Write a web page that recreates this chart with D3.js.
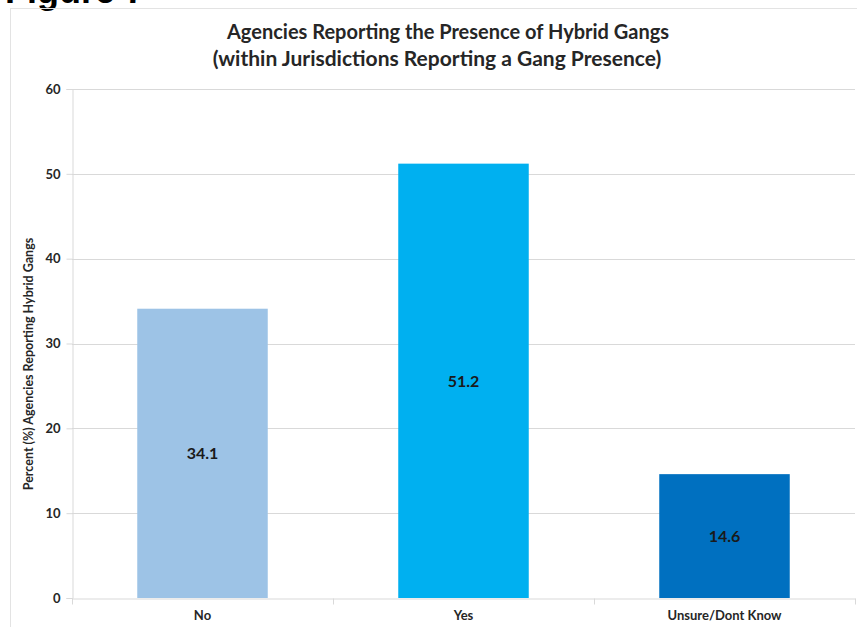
<!DOCTYPE html>
<html>
<head>
<meta charset="utf-8">
<script src="https://cdn.jsdelivr.net/npm/d3@7"></script>
<style>
  body { margin: 0; background: #fff; }
  svg { display: block; font-family: Lato, "Open Sans", sans-serif; }
</style>
</head>
<body>
<svg width="857" height="627"></svg>
<script>
// chart data
var categories = ["No", "Yes", "Unsure/Dont Know"];
var values = [34.1, 51.2, 14.6];
var barColors = ["#9dc3e6", "#00b0f0", "#0070c0"];
var yTicks = [0, 10, 20, 30, 40, 50, 60];

var svg = d3.select('svg');

// cut-off figure caption at the very top
svg.append('text')
    .text('Figure 7')
    .attr('x', 5)
    .attr('y', 3)
    .style('font-family', '"Liberation Sans", sans-serif')
    .style('font-weight', 'bold')
    .style('font-size', '36px')
    .attr('fill', '#000');

// chart frame
svg.append('rect')
    .attr('x', 10.5).attr('y', 8.5)
    .attr('width', 860).attr('height', 640)
    .attr('fill', 'none')
    .attr('stroke', '#e3e3e3');

// plot area edges (don't call it "top", that's window.top)
var plotLeft = 72, plotTop = 89, plotRight = 855, plotBottom = 598;

var x = d3.scaleBand().domain(categories).range([plotLeft, plotRight]).paddingInner(0.5).paddingOuter(0.25);
var y = d3.scaleLinear().domain([0, 60]).range([plotBottom, plotTop]);

// title
var title = svg.append('text')
    .attr('text-anchor', 'middle')
    .style('font-weight', 'bold')
    .style('font-size', '20px')
    .attr('fill', '#262626');
title.append('tspan').attr('x', 448).attr('y', 39).text('Agencies Reporting the Presence of Hybrid Gangs');
title.append('tspan').attr('x', 437).attr('y', 66).style('font-size', '21px').text('(within Jurisdictions Reporting a Gang Presence)');

// gridlines
svg.append('g')
    .selectAll('line')
    .data(yTicks.slice(1))
    .enter()
    .append('line')
    .attr('x1', plotLeft).attr('x2', plotRight)
    .attr('y1', function(d){ return Math.round(y(d)) + 0.5; })
    .attr('y2', function(d){ return Math.round(y(d)) + 0.5; })
    .attr('stroke', '#d9d9d9');

// y axis
var yAxis = svg.append('g')
    .attr('transform', 'translate(' + (plotLeft + 0.5) + ',0)')
    .call(d3.axisLeft(y).tickValues(yTicks).tickSize(6).tickPadding(6));
yAxis.select('.domain').attr('stroke', '#d9d9d9');
yAxis.selectAll('.tick line').attr('stroke', '#d9d9d9');
yAxis.selectAll('.tick text')
    .attr('fill', '#262626')
    .style('font-family', 'Lato, sans-serif')
    .style('font-weight', 'bold')
    .style('font-size', '13px');

// bars
svg.selectAll('.bar')
    .data(values)
    .enter()
    .append('rect')
    .attr('class', 'bar')
    .attr('x', function(d, i){ return x(categories[i]); })
    .attr('width', x.bandwidth())
    .attr('y', function(d){ return y(d); })
    .attr('height', function(d){ return plotBottom - y(d); })
    .attr('fill', function(d, i){ return barColors[i]; });

// value labels in the middle of each bar
svg.selectAll('.valueLabel')
    .data(values)
    .enter()
    .append('text')
    .attr('class', 'valueLabel')
    .text(function(d){ return d.toFixed(1); })
    .attr('x', function(d, i){ return x(categories[i]) + x.bandwidth() / 2; })
    .attr('y', function(d){ return (y(d) + plotBottom) / 2 + 6; })
    .attr('text-anchor', 'middle')
    .style('font-weight', 'bold')
    .style('font-size', '16px')
    .attr('fill', '#1a1a1a');

// x axis with ticks at category boundaries
var xAxis = svg.append('g')
    .attr('transform', 'translate(0,' + (plotBottom + 0.5) + ')')
    .call(d3.axisBottom(x).tickSize(0).tickPadding(12));
xAxis.select('.domain').attr('stroke', '#d9d9d9');
xAxis.selectAll('.tick text')
    .attr('fill', '#262626')
    .style('font-family', 'Lato, sans-serif')
    .style('font-weight', 'bold')
    .style('font-size', '13px');
var step = x.step();
xAxis.selectAll('.sep')
    .data(d3.range(categories.length + 1))
    .enter()
    .append('line')
    .attr('class', 'sep')
    .attr('x1', function(d){ return Math.round(plotLeft + d * step) + 0.5; })
    .attr('x2', function(d){ return Math.round(plotLeft + d * step) + 0.5; })
    .attr('y1', 0).attr('y2', 6)
    .attr('stroke', '#d9d9d9');

// y axis title
svg.append('text')
    .text('Percent (%) Agencies Reporting Hybrid Gangs')
    .attr('transform', 'translate(33,364)rotate(-90)')
    .attr('text-anchor', 'middle')
    .style('font-weight', 'bold')
    .style('font-size', '12.5px')
    .attr('fill', '#262626');
</script>
</body>
</html>
